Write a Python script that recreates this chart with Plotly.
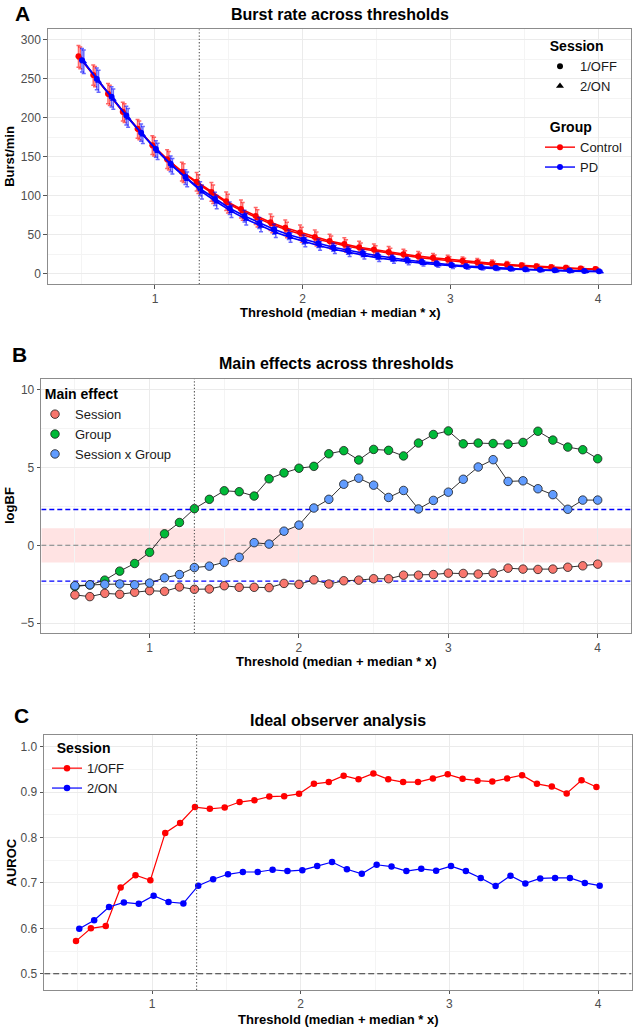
import numpy as np
import plotly.graph_objects as go

# thresholds (median + median * x)
thr = [0.5, 0.6, 0.7, 0.8, 0.9, 1.0, 1.1, 1.2, 1.3, 1.4, 1.5, 1.6, 1.7, 1.8, 1.9, 2.0, 2.1, 2.2,
       2.3, 2.4, 2.5, 2.6, 2.7, 2.8, 2.9, 3.0, 3.1, 3.2, 3.3, 3.4, 3.5, 3.6, 3.7, 3.8, 3.9, 4.0]

# panel A: burst rate (burst/min)
ctrl_off = [279, 255, 231, 208, 186, 165, 147, 131, 118, 105, 93, 83, 74, 66, 59, 53, 47, 42,
            38, 34, 31, 28, 25, 22.5, 20.5, 18.5, 16.5, 14.8, 13.2, 11.8, 10.5, 9.4, 8.4, 7.5, 6.7, 6]
ctrl_on = [277, 253, 229, 206, 184, 163, 145, 129, 115, 102, 90, 80, 71, 63, 56, 50, 44.5, 40,
           35.5, 32, 29, 26, 23, 20.5, 18.5, 16.5, 14.7, 13.1, 11.7, 10.4, 9.3, 8.3, 7.4, 6.6, 5.9, 5.3]
pd_off = [274, 250, 227, 203, 181, 160, 141, 124, 109, 96, 84, 74, 65, 57, 50, 44, 39, 34,
          30, 26.5, 23, 20, 17.5, 15.3, 13.1, 11.3, 9.7, 8.5, 7.5, 6.6, 5.8, 5.1, 4.5, 4, 3.6, 3.2]
pd_on = [272, 247, 224, 200, 178, 157, 138, 121, 105, 92, 80, 70, 61, 53, 46.5, 40.5, 35.5, 31,
         27, 23.5, 20, 17.5, 15.2, 13.2, 11.4, 9.8, 8.5, 7.4, 6.4, 5.6, 4.9, 4.3, 3.8, 3.3, 2.9, 2.6]
ctrl_se = [14, 13, 13, 12, 12, 12, 12, 12, 12, 12, 12, 11.5, 11, 10.5, 10, 9.5, 9, 8.5,
           8, 7.5, 7, 6.8, 6.5, 6, 5.5, 5.2, 5, 4.6, 4.3, 4, 3.7, 3.4, 3.1, 2.9, 2.7, 2.5]
pd_se = [15, 14, 13, 12, 11, 10.5, 10, 9.5, 9, 8.5, 8, 7.5, 7, 6.5, 6.2, 5.8, 5.5, 5.2,
         4.9, 4.6, 4.3, 4, 3.7, 3.4, 3.2, 3, 2.8, 2.6, 2.4, 2.2, 2, 1.9, 1.8, 1.7, 1.6, 1.5]

# panel B: logBF of main effects
bf_session = [-3.19, -3.30, -3.09, -3.15, -3.02, -2.92, -2.96, -2.68, -2.83, -2.81, -2.60, -2.70,
              -2.70, -2.72, -2.45, -2.51, -2.22, -2.49, -2.28, -2.24, -2.15, -2.15, -1.92, -1.92,
              -1.88, -1.79, -1.81, -1.85, -1.79, -1.47, -1.53, -1.55, -1.53, -1.41, -1.32, -1.21]
bf_group = [-2.65, -2.55, -2.24, -1.66, -1.17, -0.45, 0.74, 1.47, 2.36, 2.96, 3.51, 3.45,
            3.17, 4.28, 4.66, 4.96, 5.08, 5.89, 6.09, 5.49, 6.17, 6.11, 5.75, 6.58,
            7.13, 7.36, 6.53, 6.58, 6.55, 6.51, 6.62, 7.34, 6.77, 6.32, 6.15, 5.57]
bf_inter = [-2.60, -2.54, -2.51, -2.49, -2.54, -2.43, -2.09, -1.88, -1.43, -1.34, -1.09, -0.77,
            0.17, 0.08, 0.91, 1.30, 2.40, 2.96, 3.93, 4.32, 3.87, 3.08, 3.53, 2.34,
            2.89, 3.42, 4.25, 5.04, 5.51, 4.11, 4.15, 3.64, 3.26, 2.32, 2.91, 2.91]
bf_evidence = [2.3026, -2.3026]   # log(10) lines
bf_band = [-1.0986, 1.0986]       # log(3) band

# panel C: AUROC
auc_off = [0.572, 0.600, 0.605, 0.690, 0.717, 0.706, 0.810, 0.832, 0.867, 0.863, 0.866, 0.878,
           0.882, 0.890, 0.891, 0.896, 0.918, 0.922, 0.936, 0.928, 0.941, 0.928, 0.922, 0.922,
           0.930, 0.939, 0.929, 0.925, 0.923, 0.930, 0.937, 0.918, 0.912, 0.897, 0.926, 0.911]
auc_on = [0.599, 0.618, 0.647, 0.657, 0.654, 0.672, 0.658, 0.655, 0.694, 0.708, 0.719, 0.724,
          0.724, 0.729, 0.726, 0.728, 0.737, 0.746, 0.730, 0.720, 0.740, 0.736, 0.726, 0.731,
          0.727, 0.737, 0.726, 0.711, 0.693, 0.716, 0.699, 0.710, 0.711, 0.711, 0.700, 0.694]
auc_chance = 0.5
chosen_thr = 1.3

FONT = "Liberation Sans, Arial, Helvetica, sans-serif"
W, H = 633, 1029
x = np.array(thr)

XR = [0.275, 4.225]
YR_A = [-13.6, 313.7]
YR_B = [-5.66, 10.72]
YR_C = [0.4644, 1.0255]

fig = go.Figure()


def hline(val, col, dash, xa, ya, width=1.1):
    fig.add_trace(go.Scatter(x=XR, y=[val, val], mode="lines", showlegend=False, hoverinfo="skip",
                             line=dict(color=col, width=width, dash=dash), xaxis=xa, yaxis=ya))


# ---- panel A
red_eb = "rgba(255,0,0,0.6)"
blue_eb = "rgba(0,0,255,0.6)"
for vals, se, col, ebc, sym, off in [
    (ctrl_off, ctrl_se, "#FF0000", red_eb, "circle", -0.018),
    (ctrl_on, ctrl_se, "#FF0000", red_eb, "triangle-up", -0.006),
    (pd_off, pd_se, "#0000FF", blue_eb, "circle", 0.006),
    (pd_on, pd_se, "#0000FF", blue_eb, "triangle-up", 0.018),
]:
    fig.add_trace(go.Scatter(
        x=x + off, y=vals, mode="lines+markers", showlegend=False,
        line=dict(color=col, width=1.6),
        marker=dict(color=col, symbol=sym, size=6),
        error_y=dict(type="data", array=se, color=ebc, thickness=1.5, width=2),
        xaxis="x", yaxis="y"))

fig.add_trace(go.Scatter(x=[None], y=[None], mode="markers", name="1/OFF",
                         marker=dict(color="black", symbol="circle", size=6),
                         legend="legend", xaxis="x", yaxis="y"))
fig.add_trace(go.Scatter(x=[None], y=[None], mode="markers", name="2/ON",
                         marker=dict(color="black", symbol="triangle-up", size=7),
                         legend="legend", xaxis="x", yaxis="y"))
fig.add_trace(go.Scatter(x=[None], y=[None], mode="lines+markers", name="Control",
                         line=dict(color="#FF0000", width=1.4), marker=dict(color="#FF0000", size=6),
                         legend="legend2", xaxis="x", yaxis="y"))
fig.add_trace(go.Scatter(x=[None], y=[None], mode="lines+markers", name="PD",
                         line=dict(color="#0000FF", width=1.4), marker=dict(color="#0000FF", size=6),
                         legend="legend2", xaxis="x", yaxis="y"))

# ---- panel B
hline(0, "#7F7F7F", "5px,3px", "x2", "y2")
for v in bf_evidence:
    hline(v, "#0000FF", "5px,3px", "x2", "y2", width=1.4)
for vals, col, name in [(bf_session, "#F8766D", "Session"),
                        (bf_group, "#00BA38", "Group"),
                        (bf_inter, "#619CFF", "Session x Group")]:
    mk = dict(color=col, size=8.5, line=dict(color="#1a1a1a", width=0.8))
    fig.add_trace(go.Scatter(
        x=x, y=vals, mode="lines+markers", showlegend=False,
        line=dict(color="#1a1a1a", width=0.9), marker=mk,
        xaxis="x2", yaxis="y2"))
    fig.add_trace(go.Scatter(x=[None], y=[None], mode="markers", name=name, legend="legend3",
                             marker=mk, xaxis="x2", yaxis="y2"))

# ---- panel C
hline(auc_chance, "#333333", "6px,3px", "x3", "y3")
for vals, col, name, off in [(auc_off, "#FF0000", "1/OFF", -0.011),
                             (auc_on, "#0000FF", "2/ON", 0.011)]:
    fig.add_trace(go.Scatter(
        x=x + off, y=vals, mode="lines+markers", name=name, legend="legend4",
        line=dict(color=col, width=1.2), marker=dict(color=col, size=6.5),
        xaxis="x3", yaxis="y3"))

# chosen threshold + BF band
shapes = []
for xr, yr, rng in [("x", "y", YR_A), ("x2", "y2", YR_B), ("x3", "y3", YR_C)]:
    shapes.append(dict(type="line", xref=xr, yref=yr, x0=chosen_thr, x1=chosen_thr,
                       y0=rng[0], y1=rng[1],
                       line=dict(color="#555555", width=1.1, dash="1.3px,2px"), layer="above"))
shapes.append(dict(type="rect", xref="x2", yref="y2", x0=XR[0], x1=XR[1],
                   y0=bf_band[0], y1=bf_band[1],
                   fillcolor="rgba(255,0,0,0.11)", line=dict(width=0), layer="below"))


def ax(domain, rng, dtick, minor, anchor, tick0=0):
    return dict(domain=domain, range=rng, dtick=dtick, tick0=tick0, anchor=anchor,
                showline=True, mirror=True,
                linecolor="#8C8C8C", linewidth=1.3, ticks="outside", ticklen=3.5,
                tickcolor="#555555", tickwidth=1, showgrid=True, gridcolor="#EBEBEB", gridwidth=1,
                zeroline=False, automargin=False,
                tickfont=dict(family=FONT, size=12, color="#4D4D4D"),
                minor=dict(dtick=minor, tick0=tick0, showgrid=True, gridcolor="#F4F4F4",
                           gridwidth=0.6, ticks=""))


fig.update_layout(
    width=W, height=H, margin=dict(l=0, r=0, t=0, b=0),
    paper_bgcolor="white", plot_bgcolor="white", template="none",
    font=dict(family=FONT, size=13, color="black"),
    xaxis=ax([47.9 / W, 631.3 / W], XR, 1, 0.5, "y"),
    yaxis=ax([1 - 284.3 / H, 1 - 29.3 / H], YR_A, 50, 25, "x"),
    xaxis2=ax([41.3 / W, 631.3 / W], XR, 1, 0.5, "y2"),
    yaxis2=ax([1 - 633.3 / H, 1 - 378.7 / H], YR_B, 5, 2.5, "x2"),
    xaxis3=ax([44.2 / W, 631.5 / W], XR, 1, 0.5, "y3"),
    yaxis3=ax([1 - 990 / H, 1 - 735 / H], YR_C, 0.1, 0.05, "x3"),
    shapes=shapes,
)
fig.update_layout(yaxis3_tickformat=".1f", xaxis3_ticklen=2.5)


def leg(xp, ytop, title):
    return dict(x=xp / W, y=1 - ytop / H, xanchor="left", yanchor="top",
                bgcolor="rgba(0,0,0,0)", borderwidth=0,
                font=dict(family=FONT, size=13, color="#1a1a1a"),
                title=dict(text="<b>" + title + "</b>", font=dict(family=FONT, size=14, color="black")),
                tracegroupgap=0)


fig.update_layout(
    legend=leg(540, 33, "\u00a0\u00a0Session"),
    legend2=leg(540, 114, "\u00a0\u00a0Group"),
    legend3=leg(35, 381, "\u00a0\u00a0Main effect"),
    legend4=leg(47, 735, "\u00a0\u00a0Session"),
)


def txt(text, xp, yp, size, bold=True, angle=0):
    fig.add_annotation(text="<b>" + text + "</b>" if bold else text, xref="paper", yref="paper",
                       x=xp / W, y=1 - yp / H, xanchor="center", yanchor="middle",
                       showarrow=False, textangle=angle,
                       font=dict(family=FONT, size=size, color="black"))


txt("A", 22, 13.7, 21)
txt("B", 19, 354, 21)
txt("C", 21.5, 715, 21)
txt("Burst rate across thresholds", 339.6, 14.5, 16)
txt("Main effects across thresholds", 336.3, 363, 16)
txt("Ideal observer analysis", 337.9, 720, 16)
txt("Threshold (median + median * x)", 339.6, 312.5, 13)
txt("Threshold (median + median * x)", 336.3, 661.7, 13)
txt("Threshold (median + median * x)", 337.9, 1019, 13)
txt("Burst/min", 10, 156.8, 13, angle=-90)
txt("logBF", 10, 506, 13, angle=-90)
txt("AUROC", 10.5, 863, 13, angle=-90)

fig.write_html("out.html", config={"displayModeBar": False},
               post_script="document.body.style.margin='0';")
